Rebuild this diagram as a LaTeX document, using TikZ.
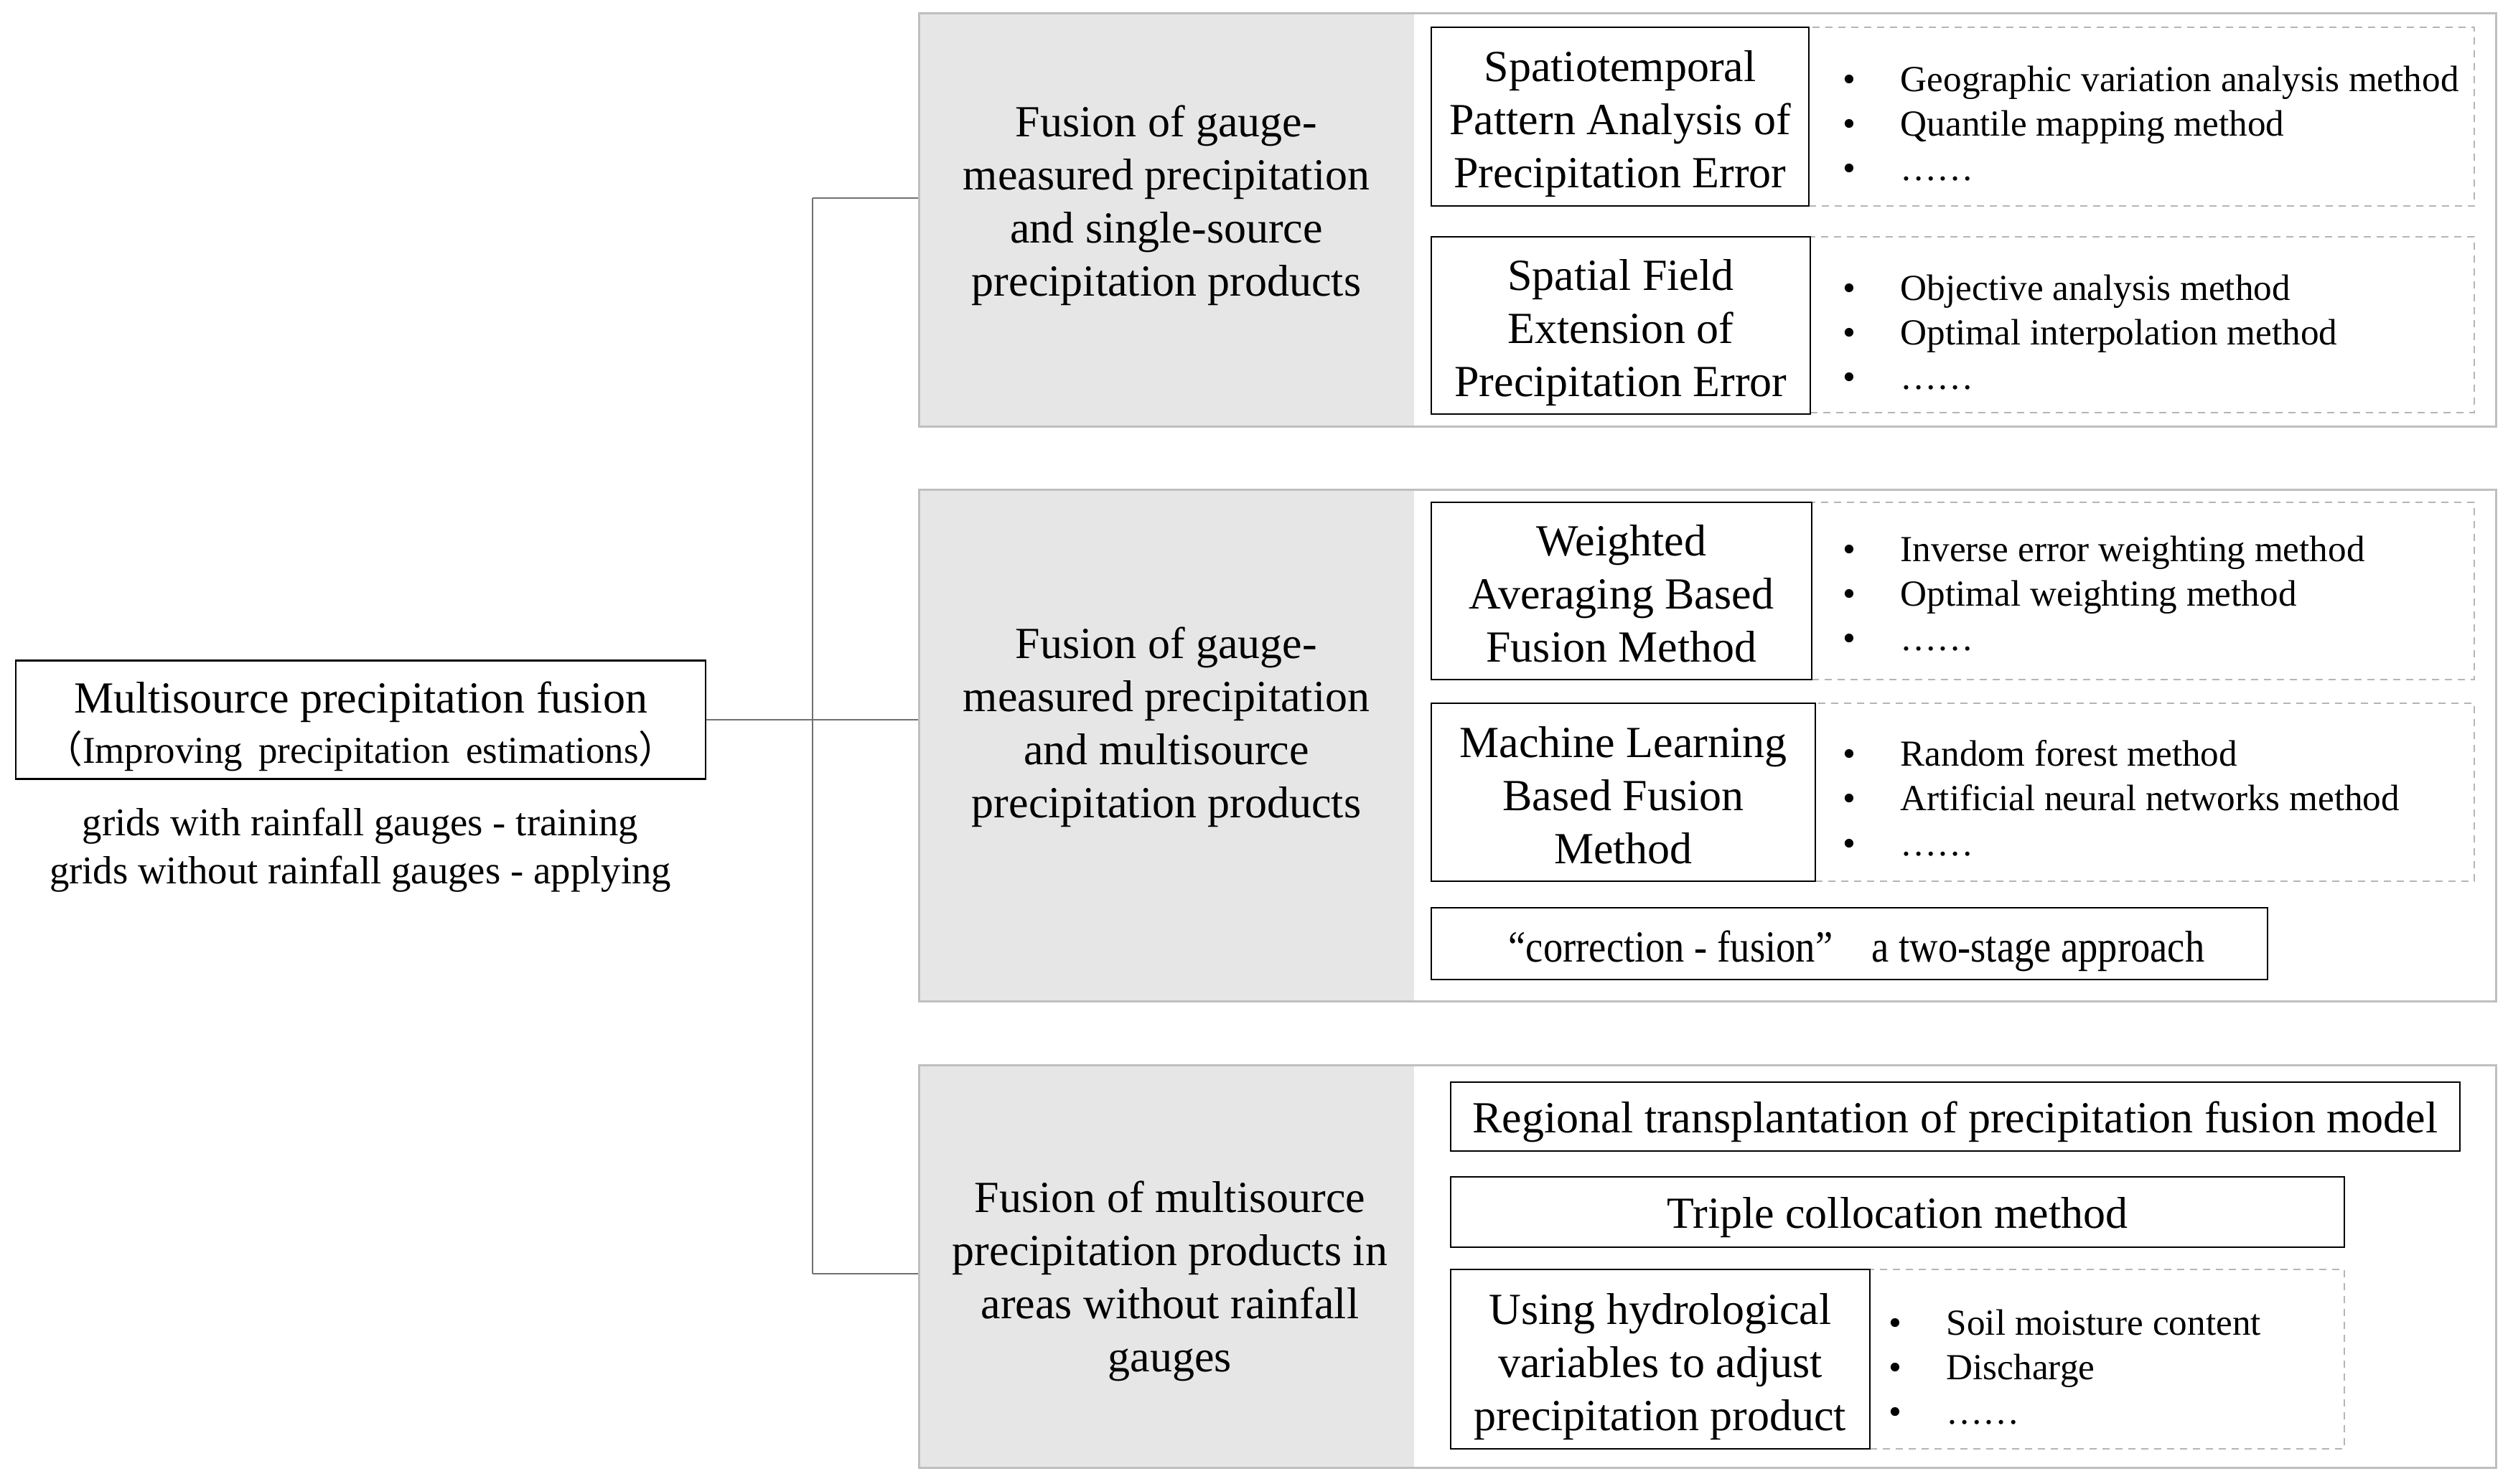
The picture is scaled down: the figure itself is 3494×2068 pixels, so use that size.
\documentclass[tikz,border=0pt]{standalone}
\usepackage{fontspec}
\setmainfont{Liberation Serif}
\newfontfamily\cjk{Noto Sans CJK SC}
\usetikzlibrary{positioning}
\definecolor{panelgrey}{HTML}{E6E6E6}
\definecolor{panelline}{HTML}{BFBFBF}
\definecolor{connline}{HTML}{707070}
\definecolor{dashline}{HTML}{B5B5B5}
\newcommand\mainsize{\fontsize{15.5}{18.5}\selectfont}
\newcommand\subsize{\fontsize{13.2}{16}\selectfont}
\newcommand\capsize{\fontsize{13.7}{16.7}\selectfont}
\newcommand\bulsize{\fontsize{12.8}{15.6}\selectfont}
\newcommand\bul[1]{\makebox[20pt][l]{\textbullet}#1}
\newcommand\topstr{\rule{0pt}{16.2pt}}
\newcommand\topstrs{\rule{0pt}{15.1pt}}
\newcommand\botstr{\rule[-3.7pt]{0pt}{3.7pt}}
\begin{document}
\begin{tikzpicture}[x=0.25pt,y=-0.25pt,
  panel/.style={draw=panelline, line width=0.75pt, inner sep=0pt, rectangle},
  solidbox/.style={draw=black, line width=0.7pt, fill=white, align=center, inner sep=0pt, font=\mainsize},
  dashbox/.style={draw=dashline, line width=0.6pt, dash pattern=on 2.5pt off 2pt, inner sep=0pt},
  greytext/.style={align=center, font=\mainsize, inner sep=0pt},
  bullets/.style={align=left, font=\bulsize, anchor=west, inner sep=0pt},
  conn/.style={draw=connline, line width=0.6pt}]
\useasboundingbox (0,0) rectangle (3494,2068);

% grey left parts of panels
\fill[panelgrey] (1280,18) rectangle (1970,594);
\fill[panelgrey] (1280,682) rectangle (1970,1395);
\fill[panelgrey] (1280,1484) rectangle (1970,2045);

% panels
\node[panel, minimum width=2197*0.25pt, minimum height=576*0.25pt] (p1) at (2378.5,306) {};
\node[panel, minimum width=2197*0.25pt, minimum height=713*0.25pt] (p2) at (2378.5,1038.5) {};
\node[panel, minimum width=2197*0.25pt, minimum height=561*0.25pt] (p3) at (2378.5,1764.5) {};

% grey texts
\node[greytext] (g1) at (1625,276) {\topstr Fusion of gauge-\\measured precipitation\\and single-source\\precipitation products\botstr};
\node[greytext] (g2) at (1625,1003) {\topstr Fusion of gauge-\\measured precipitation\\and multisource\\precipitation products\botstr};
\node[greytext] (g3) at (1630,1775) {\topstr Fusion of multisource\\precipitation products in\\areas without rainfall\\gauges\botstr};

% main box
\node[solidbox, minimum width=961*0.25pt, minimum height=165*0.25pt] (main) at (502.5,1003)
  {\topstr Multisource precipitation fusion\\[-1pt]{\subsize\spaceskip=0.42em plus 0.1em\cjk（\rmfamily Improving precipitation estimations\cjk）}\botstr};
\node[align=center, font=\capsize, inner sep=0pt] (cap) at (502,1185)
  {grids with rainfall gauges - training\\grids without rainfall gauges - applying};

% connectors
\coordinate (j) at (1132,1003);
\draw[conn] (main.east) -- (j);
\draw[conn] (j |- g1) -- (j |- g3);
\draw[conn] (j |- g1) -- (p1.west |- g1);
\draw[conn] (j |- g2) -- (p2.west |- g2);
\draw[conn] (j |- g3) -- (p3.west |- g3);

% panel 1
\node[dashbox, minimum width=927*0.25pt, minimum height=249*0.25pt] (d11) at (2983.5,162.5) {};
\node[dashbox, minimum width=925*0.25pt, minimum height=245*0.25pt] (d12) at (2984.5,452.5) {};
\node[solidbox, minimum width=526*0.25pt, minimum height=249*0.25pt] (b11) at (2257,162.5)
  {\topstr Spatiotemporal\\Pattern Analysis of\\Precipitation Error\botstr};
\node[solidbox, minimum width=528*0.25pt, minimum height=247*0.25pt] (b12) at (2258,453.5)
  {\topstr Spatial Field\\Extension of\\Precipitation Error\botstr};
\node[bullets] (l11) at (2567,172) {\bul{Geographic variation analysis method}\\\bul{Quantile mapping method}\\\bul{……}};
\node[bullets] (l12) at (2567,463) {\bul{Objective analysis method}\\\bul{Optimal interpolation method}\\\bul{……}};

% panel 2
\node[dashbox, minimum width=923*0.25pt, minimum height=247*0.25pt] (d21) at (2985.5,823.5) {};
\node[dashbox, minimum width=918*0.25pt, minimum height=248*0.25pt] (d22) at (2988,1104) {};
\node[solidbox, minimum width=530*0.25pt, minimum height=247*0.25pt] (b21) at (2259,823.5)
  {\topstr Weighted\\Averaging Based\\Fusion Method\botstr};
\node[solidbox, minimum width=535*0.25pt, minimum height=248*0.25pt] (b22) at (2261.5,1104)
  {\topstr Machine Learning\\Based Fusion\\Method\botstr};
\node[bullets] (l21) at (2567,827) {\bul{Inverse error weighting method}\\\bul{Optimal weighting method}\\\bul{……}};
\node[bullets] (l22) at (2567,1112) {\bul{Random forest method}\\\bul{Artificial neural networks method}\\\bul{……}};
\node[solidbox, minimum width=1165*0.25pt, minimum height=100*0.25pt] (b23) at (2576.5,1315)
  {\topstr\hspace*{5pt}\scalebox{0.88}[1]{“correction - fusion”\quad a two-stage approach}\botstr};

% panel 3
\node[solidbox, minimum width=1406*0.25pt, minimum height=96*0.25pt] (b31) at (2724,1556)
  {\topstrs Regional transplantation of precipitation fusion model\botstr};
\node[solidbox, minimum width=1245*0.25pt, minimum height=98*0.25pt] (b32) at (2643.5,1689)
  {\topstrs Triple collocation method\botstr};
\node[dashbox, minimum width=661*0.25pt, minimum height=250*0.25pt] (d33) at (2935.5,1894) {};
\node[solidbox, minimum width=584*0.25pt, minimum height=250*0.25pt] (b33) at (2313,1894)
  {\topstr Using hydrological\\variables to adjust\\precipitation product\botstr};
\node[bullets] (l33) at (2631,1905) {\bul{Soil moisture content}\\\bul{Discharge}\\\bul{……}};
\end{tikzpicture}
\end{document}
